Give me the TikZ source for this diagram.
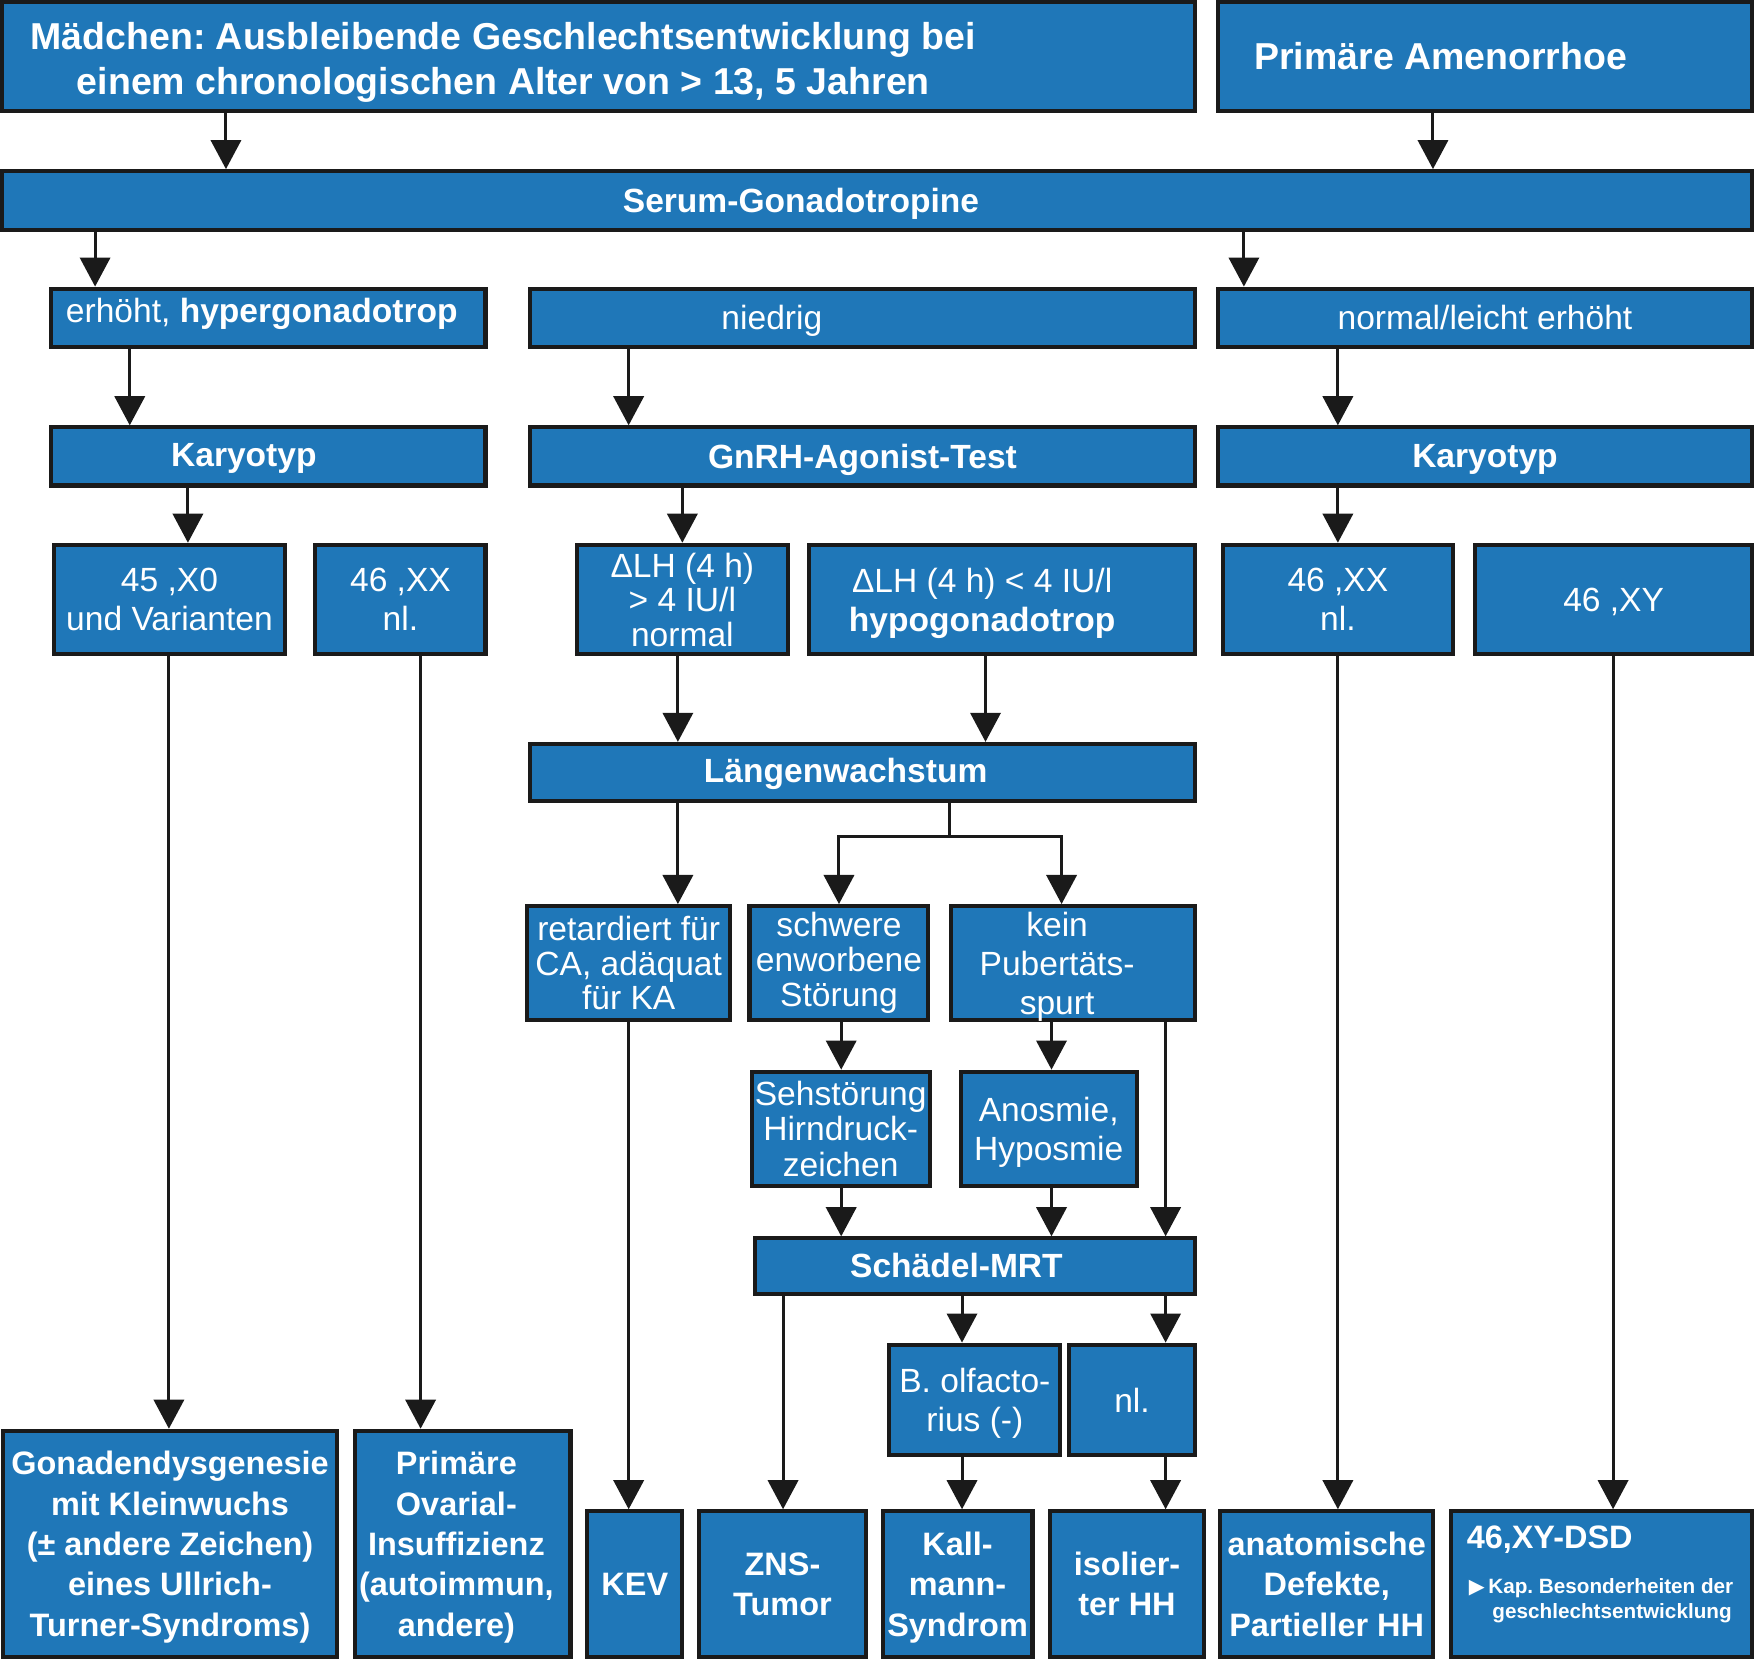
\documentclass[tikz,border=0pt]{standalone}
\usepackage{fontspec}
\setmainfont{Liberation Sans}
\newfontfamily\symfont{DejaVu Sans}
\usetikzlibrary{arrows.meta,calc,positioning}
\definecolor{BoxClr}{RGB}{31,119,184}
\definecolor{LineClr}{RGB}{26,26,26}
\frenchspacing
\tikzset{
  blk/.style 2 args={draw=LineClr,line width=3.6pt,fill=BoxClr,minimum width=#1pt,minimum height=#2pt,inner sep=0pt},
  txt/.style={text=white,align=center,inner sep=0pt,text depth=0pt,font=\fontsize{30}{35}\selectfont},
  tight/.style={font=\fontsize{30}{31}\selectfont},
  hdr/.style={font=\fontsize{33.5}{40}\selectfont\bfseries},
  btxt/.style={font=\fontsize{30}{35}\selectfont\bfseries},
  fin/.style={font=\fontsize{29}{36}\selectfont\bfseries},
  con/.style={draw=LineClr,line width=2.7pt},
  arr/.style={con,-{Triangle[length=26pt,width=27pt]}}
}
\begin{document}
\begin{tikzpicture}[x=1pt,y=-1pt]
\useasboundingbox (0,0) rectangle (1568,1483);

\node[blk={1066}{97}] (mad) at (535,50.5) {};
\node[txt,hdr] (madT) at (450,52) {Mädchen: Ausbleibende Geschlechtsentwicklung bei\\einem chronologischen Alter von > 13, 5 Jahren};
\node[blk={477}{97}] (amen) at (1327.5,50.5) {};
\node[txt,hdr] (amenT) at (1288,50) {Primäre Amenorrhoe};

\node[blk={1564}{53}] (serum) at (784,179.5) {};
\node[txt,btxt] (serumT) at (716,179) {Serum-Gonadotropine};

\node[blk={388}{52}] (hyper) at (240,284) {};
\node[txt] (hyperT) at (234,277) {erhöht, \textbf{hypergonadotrop}};
\node[blk={594}{52}] (nied) at (771,284) {};
\node[txt] (niedT) at (690,284) {niedrig};
\node[blk={477}{52},txt] (normh) at (1327.5,284) {normal/leicht erhöht};

\node[blk={388}{52}] (karyL) at (240,408) {};
\node[txt,btxt] (karyLT) at (218,407) {Karyotyp};
\node[blk={594}{52},txt,btxt] (gnrh) at (771,408) {GnRH-Agonist-Test};
\node[blk={477}{52},txt,btxt] (karyR) at (1327.5,408) {Karyotyp};

\node[blk={207}{98},txt] (xo) at (151.5,536) {45 ,X0\\und Varianten};
\node[blk={152}{98},txt] (xxL) at (358,536) {46 ,XX\\nl.};
\node[blk={188}{98},txt,tight] (lhn) at (610,536) {ΔLH (4 h)\\> 4 IU/l\\normal};
\node[blk={345}{98}] (lhh) at (895.5,536) {};
\node[txt] (lhhT) at (878,536) {ΔLH (4 h) < 4 IU/l\\\textbf{hypogonadotrop}};
\node[blk={206}{98},txt] (xxR) at (1196,536) {46 ,XX\\nl.};
\node[blk={247}{98},txt] (xy) at (1442.5,536) {46 ,XY};

\node[blk={594}{51}] (lw) at (771,690.5) {};
\node[txt,btxt] (lwT) at (756,689) {Längenwachstum};

\node[blk={182}{102},txt,tight] (ret) at (562,861) {retardiert für\\CA, adäquat\\für KA};
\node[blk={160}{102},txt,tight,text depth=7pt] (schw) at (750,861) {schwere\\enworbene\\Störung};
\node[blk={218}{102}] (kein) at (959,861) {};
\node[txt] (keinT) at (945,861) {kein\\Pubertäts-\\spurt};

\node[blk={159}{102},txt,font=\fontsize{30}{32}\selectfont] (seh) at (751.5,1009) {Sehstörung\\Hirndruck-\\zeichen};
\node[blk={157}{102},txt] (anos) at (937.5,1009) {Anosmie,\\Hyposmie};

\node[blk={393}{50}] (mrt) at (871.5,1132) {};
\node[txt,btxt] (mrtT) at (855,1131) {Schädel-MRT};

\node[blk={153}{99},txt] (olf) at (871.5,1251.5) {B. olfacto-\\rius (-)};
\node[blk={112}{99},txt] (nl) at (1012,1251.5) {nl.};

\node[blk={298}{202},txt,fin] (gon) at (152,1380) {Gonadendysgenesie\\mit Kleinwuchs\\(± andere Zeichen)\\eines Ullrich-\\Turner-Syndroms)};
\node[blk={193}{202}] (ova) at (413.5,1380) {};
\node[txt,fin] (ovaT) at (408,1380) {Primäre\\Ovarial-\\Insuffizienz\\(autoimmun,\\andere)};
\node[blk={85}{130},txt,fin] (kev) at (567.5,1416) {KEV};
\node[blk={149}{130},txt,fin] (zns) at (699.5,1416) {ZNS-\\Tumor};
\node[blk={134}{130},txt,fin] (kall) at (856,1416) {Kall-\\mann-\\Syndrom};
\node[blk={137}{130},txt,fin] (iso) at (1007.5,1416) {isolier-\\ter HH};
\node[blk={190}{130},txt,fin] (ana) at (1186,1416) {anatomische\\Defekte,\\Partieller HH};
\node[blk={269}{130}] (dsd) at (1431.5,1416) {};
\node[txt,fin,anchor=base west] (dsdT) at (1311,1384) {46,XY-DSD};
\node[txt,anchor=west,align=left,text depth=4pt,font=\fontsize{18.5}{23}\selectfont\bfseries] (dsdK) at (1313,1431) {{\symfont ▶}\,Kap. Besonderheiten der\\\hspace*{21pt}geschlechtsentwicklung};

\foreach \s/\t/\x in {mad/serum/202,amen/serum/1281,serum/hyper/85,serum/normh/1112,
  hyper/karyL/116,nied/gnrh/562,normh/karyR/1196,karyL/xo/168,gnrh/lhn/610,karyR/xxR/1196,
  xo/gon/151,xxL/ova/376,lhn/lw/606,lhh/lw/881,xxR/ana/1196,xy/dsd/1442,lw/ret/606,
  ret/kev/562,schw/seh/752,kein/anos/940,kein/mrt/1042,seh/mrt/752,anos/mrt/940,
  mrt/zns/700,mrt/olf/860,mrt/nl/1042,olf/kall/860,nl/iso/1042}
  \draw[arr] (\s.south -| \x,0) -- (\t.north -| \x,0);

\coordinate (fork) at (849,748);
\draw[con] (lw.south -| fork) -- (fork);
\draw[arr] (fork) -| (schw.north -| 750,0);
\draw[arr] (fork) -| (kein.north -| 949,0);

\end{tikzpicture}
\end{document}
